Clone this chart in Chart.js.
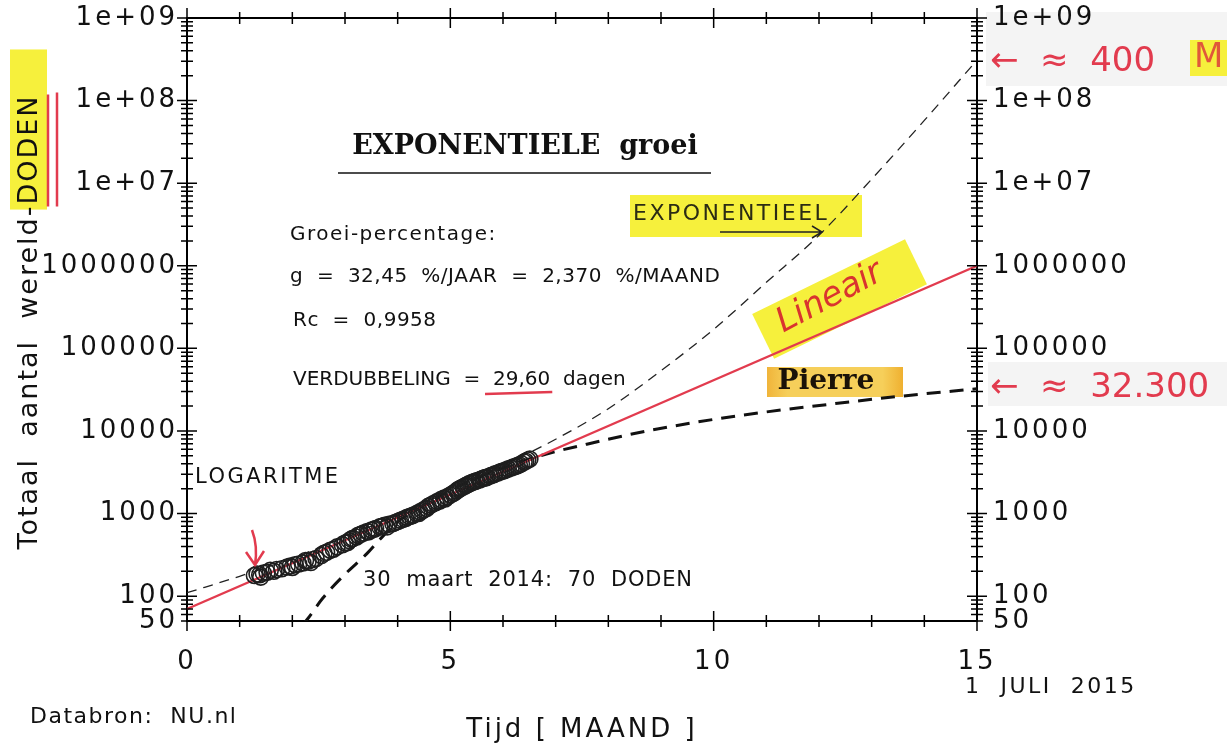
<!DOCTYPE html>
<html>
<head>
<meta charset="utf-8">
<script src="https://cdn.jsdelivr.net/npm/chart.js@4.4.0/dist/chart.umd.min.js"></script>
<style>
  html, body { margin: 0; padding: 0; background: #fff; }
  canvas { display: block; }
</style>
</head>
<body>
<canvas id="myChart" width="1227" height="749"></canvas>
<script>
// x = maanden na 30 maart 2014, y = totaal aantal doden
var doden_maand = [1.28, 1.33, 1.38, 1.40, 1.45, 1.52, 1.58, 1.65, 1.70, 1.80, 1.90, 1.96, 2.00, 2.05, 2.12, 2.20,
  2.25, 2.30, 2.35, 2.39, 2.45, 2.55, 2.60, 2.65, 2.72, 2.78, 2.85, 2.95, 3.00, 3.05, 3.08, 3.12, 3.15, 3.22,
  3.25, 3.30, 3.35, 3.42, 3.45, 3.50, 3.55, 3.58, 3.66, 3.70, 3.75, 3.80, 3.83, 3.91, 3.95, 4.00, 4.05,
  4.10, 4.15, 4.18, 4.23, 4.27, 4.30, 4.36, 4.40, 4.42, 4.47, 4.50, 4.55, 4.58, 4.63, 4.67, 4.72, 4.75,
  4.80, 4.82, 4.88, 4.90, 4.94, 5.00, 5.05, 5.08, 5.12, 5.15, 5.18, 5.20, 5.24, 5.28, 5.30, 5.33, 5.36,
  5.40, 5.43, 5.47, 5.50, 5.55, 5.58, 5.62, 5.65, 5.68, 5.70, 5.75, 5.78, 5.82, 5.85, 5.90, 5.94, 5.98,
  6.02, 6.06, 6.10, 6.15, 6.19, 6.23, 6.27, 6.31, 6.35, 6.40, 6.43, 6.47, 6.51];
var doden_aantal = [178, 185, 182, 170, 190, 195, 205, 200, 210, 215, 225, 232, 222, 240, 245, 252,
  270, 265, 255, 278, 285, 310, 330, 340, 360, 370, 395, 420, 440, 445, 470, 490, 500, 520,
  545, 560, 580, 605, 600, 630, 645, 660, 690, 700, 720, 690, 740, 755, 780, 800, 830,
  850, 870, 900, 920, 940, 960, 1000, 1000, 1050, 1080, 1120, 1150, 1220, 1270, 1310, 1350, 1400,
  1420, 1480, 1540, 1500, 1590, 1680, 1750, 1800, 1880, 1950, 2000, 2030, 2100, 2150, 2200, 2250, 2300,
  2350, 2410, 2450, 2500, 2550, 2600, 2680, 2700, 2720, 2770, 2850, 2900, 2950, 3020, 3100, 3180, 3250,
  3300, 3380, 3470, 3560, 3650, 3700, 3800, 3900, 4000, 4200, 4300, 4450, 4560];

var lineair_maand = [0, 15];
var lineair_aantal = [70, 1000000];

var expo_maand = [0, 1, 2, 3, 4, 5, 6, 7, 8, 9, 10, 11, 12, 13, 14, 15];
var expo_aantal = [110, 174, 288, 525, 955, 1905, 3800, 7940, 18600, 53700, 170000, 631000,
  2340000, 11200000, 57500000, 309000000];

var pierre_maand = [2.2, 2.30, 2.58, 2.96, 3.42, 3.66, 4.0, 4.5, 5.0, 5.5, 6.0, 6.5, 7.0, 7.59, 8.66,
  10.0, 11.0, 12.3, 13.54, 15.0];
var pierre_aantal = [45, 54, 95, 174, 329, 485, 794, 1259, 1905, 2692, 3548, 4571, 5623, 6918, 9772,
  13800, 17000, 21400, 26300, 32400];

var x_ticks = [0, 5, 10, 15];
var y_ticks = [50, 100, 1000, 10000, 100000, 1000000, 1e7, 1e8, 1e9];
var y_labels = ['50', '100', '1000', '10000', '100000', '1000000', '1e+07', '1e+08', '1e+09'];

function pts(xs, ys) {
  var out = [];
  for (var i = 0; i < xs.length; i++) out.push({x: xs[i], y: ys[i]});
  return out;
}

function yLabel(v) {
  for (var i = 0; i < y_ticks.length; i++) {
    if (Math.abs(v - y_ticks[i]) < y_ticks[i] * 1e-6) return y_labels[i];
  }
  return '';
}

var FONT = 'DejaVu Sans';
var ROOD = '#e23b4e';
var GEEL = '#f6f03c';
var LS = '3px'; // brede letters zoals in het origineel
var yTitel = 'Totaal  aantal  wereld-DODEN';

function yTitelPos(ctx) {
  ctx.save();
  ctx.font = '27px "' + FONT + '"';
  ctx.letterSpacing = '2px';
  var W = ctx.measureText(yTitel).width;
  var wD = ctx.measureText('DODEN').width;
  ctx.restore();
  var cy = 322;
  var top = cy - W / 2;
  return {W: W, top: top, dodenEnd: top + wD, cy: cy};
}

function txt(ctx, s, x, y, size, opts) {
  opts = opts || {};
  ctx.save();
  ctx.font = (opts.style || '') + ' ' + size + 'px "' + (opts.family || FONT) + '"';
  ctx.letterSpacing = opts.ls || '0px';
  ctx.fillStyle = opts.color || '#111';
  ctx.textAlign = opts.align || 'left';
  ctx.textBaseline = 'middle';
  ctx.fillText(s, x, y);
  ctx.restore();
}

function noPad(s) { s.paddingTop = 0; s.paddingBottom = 0; }

const annotaties = {
  id: 'annotaties',
  beforeLayout(chart) { chart.ctx.letterSpacing = LS; },
  beforeDraw(chart) {
    const ctx = chart.ctx;
    ctx.save();
    ctx.fillStyle = '#fff';
    ctx.fillRect(0, 0, chart.width, chart.height);
    // lichte scan-achtergronden
    ctx.fillStyle = '#f4f4f4';
    ctx.fillRect(986, 12, 241, 74);
    ctx.fillRect(988, 362, 239, 44);
    // DODEN markering
    const p = yTitelPos(ctx);
    ctx.fillStyle = GEEL;
    ctx.fillRect(10, p.top - 45, 37, p.dodenEnd - p.top + 50);
    // EXPONENTIEEL
    ctx.fillRect(630, 195, 232, 42);
    // Lineair
    ctx.save();
    ctx.translate(840, 300);
    ctx.rotate(-26 * Math.PI / 180);
    ctx.fillRect(-85, -26, 170, 50);
    ctx.restore();
    // Pierre
    const g = ctx.createLinearGradient(767, 0, 903, 0);
    g.addColorStop(0, '#f0b43a');
    g.addColorStop(0.15, '#f6cf5a');
    g.addColorStop(0.85, '#f6cf5a');
    g.addColorStop(1, '#efb030');
    ctx.fillStyle = g;
    ctx.fillRect(767, 367, 136, 30);
    // M
    ctx.fillStyle = GEEL;
    ctx.fillRect(1190, 40, 37, 36);
    ctx.restore();
    ctx.letterSpacing = LS;
  },
  afterDraw(chart) {
    const ctx = chart.ctx;
    const ca = chart.chartArea;
    const xs = chart.scales.x;
    const ys = chart.scales.y;
    ctx.save();
    ctx.letterSpacing = '0px';
    ctx.strokeStyle = '#000';
    ctx.lineWidth = 1.5;
    ctx.beginPath();
    xs.ticks.forEach(function (t) {
      const px = xs.getPixelForValue(t.value);
      const L = (Math.round(t.value) % 5 === 0) ? 10 : 6;
      ctx.moveTo(px, ca.bottom - L); ctx.lineTo(px, ca.bottom + L);
      ctx.moveTo(px, ca.top - L); ctx.lineTo(px, ca.top + L);
    });
    ys.ticks.forEach(function (t) {
      const e = Math.floor(Math.log10(t.value) + 1e-9);
      const m = t.value / Math.pow(10, e);
      if (Math.abs(m - Math.round(m)) > 1e-6) return;
      const py = ys.getPixelForValue(t.value);
      const L = Math.abs(m - 1) < 1e-6 ? 10 : 6;
      ctx.moveTo(ca.left - L, py); ctx.lineTo(ca.left + L, py);
      ctx.moveTo(ca.right - L, py); ctx.lineTo(ca.right + L, py);
    });
    ctx.stroke();

    // y titel
    const p = yTitelPos(ctx);
    ctx.save();
    ctx.translate(30, p.cy);
    ctx.rotate(-Math.PI / 2);
    ctx.font = '27px "' + FONT + '"';
    ctx.letterSpacing = '2px';
    ctx.fillStyle = '#111';
    ctx.textAlign = 'center';
    ctx.textBaseline = 'middle';
    ctx.fillText(yTitel, 0, 0);
    ctx.restore();
    ctx.strokeStyle = ROOD;
    ctx.lineWidth = 2.5;
    ctx.beginPath();
    ctx.moveTo(48, p.top); ctx.lineTo(48, p.dodenEnd + 2);
    ctx.moveTo(57, p.top - 2); ctx.lineTo(57, p.dodenEnd + 2);
    ctx.stroke();

    // kop
    txt(ctx, 'EXPONENTIELE  groei', 525, 147, 27, {family: 'DejaVu Serif', style: 'bold', align: 'center'});
    ctx.strokeStyle = '#111';
    ctx.lineWidth = 1.5;
    ctx.beginPath(); ctx.moveTo(338, 173); ctx.lineTo(711, 173); ctx.stroke();

    txt(ctx, 'Groei-percentage:', 290, 235, 20, {ls: '1.5px'});
    txt(ctx, 'g  =  32,45  %/JAAR  =  2,370  %/MAAND', 290, 277, 20, {ls: '0.5px'});
    txt(ctx, 'Rc  =  0,9958', 293, 321, 20, {ls: '0.5px'});
    txt(ctx, 'VERDUBBELING  =  29,60  dagen', 293, 380, 20);
    ctx.font = '20px "' + FONT + '"';
    const w0 = ctx.measureText('VERDUBBELING  =  ').width;
    const w1 = ctx.measureText('29,60').width;
    ctx.strokeStyle = ROOD;
    ctx.lineWidth = 2.5;
    ctx.beginPath(); ctx.moveTo(293 + w0 - 8, 394); ctx.lineTo(293 + w0 + w1 + 2, 392); ctx.stroke();

    txt(ctx, 'EXPONENTIEEL', 633, 214, 22, {color: '#2b2b14', ls: '2.5px'});
    ctx.strokeStyle = '#222';
    ctx.lineWidth = 1.5;
    ctx.beginPath();
    ctx.moveTo(720, 232); ctx.lineTo(822, 232);
    ctx.moveTo(812, 226); ctx.lineTo(822, 232); ctx.lineTo(812, 238);
    ctx.stroke();

    ctx.save();
    ctx.translate(830, 298);
    ctx.rotate(-28 * Math.PI / 180);
    ctx.font = 'italic 34px "' + FONT + '"';
    ctx.fillStyle = '#d9342f';
    ctx.textAlign = 'center';
    ctx.textBaseline = 'middle';
    ctx.fillText('Lineair', 0, 0);
    ctx.restore();

    txt(ctx, 'Pierre', 826, 382, 28, {family: 'DejaVu Serif', style: 'bold', align: 'center', color: '#1a1208'});

    txt(ctx, 'LOGARITME', 195, 478, 21, {ls: '2.5px'});
    txt(ctx, '30  maart  2014:  70  DODEN', 363, 581, 21, {ls: '0.8px'});

    // rode pijl
    ctx.strokeStyle = ROOD;
    ctx.lineWidth = 2.5;
    ctx.beginPath();
    ctx.moveTo(252, 530); ctx.quadraticCurveTo(258, 546, 255, 565);
    ctx.moveTo(246, 552); ctx.lineTo(255, 565); ctx.lineTo(264, 551);
    ctx.stroke();

    txt(ctx, '1  JULI  2015', 965, 687, 22, {ls: '2.5px'});
    txt(ctx, 'Databron:  NU.nl', 30, 717, 22, {ls: '1.5px'});

    txt(ctx, '\u2190  \u2248  400', 990, 62, 34, {color: ROOD});
    txt(ctx, 'M', 1194, 58, 34, {color: '#e0583a'});
    txt(ctx, '\u2190  \u2248  32.300', 990, 388, 34, {color: ROOD});
    ctx.restore();
  }
};

const tickFont = {family: FONT, size: 26};

const config = {
  type: 'scatter',
  data: {
    datasets: [
      {
        label: 'doden',
        data: pts(doden_maand, doden_aantal),
        pointStyle: 'circle',
        pointRadius: 8,
        borderColor: '#1e1e1e',
        borderWidth: 1.6,
        backgroundColor: 'rgba(0,0,0,0)',
        showLine: false
      },
      {
        label: 'lineair',
        data: pts(lineair_maand, lineair_aantal),
        showLine: true,
        borderColor: ROOD,
        borderWidth: 2.2,
        pointRadius: 0
      },
      {
        label: 'exponentieel',
        data: pts(expo_maand, expo_aantal),
        showLine: true,
        borderColor: '#222',
        borderWidth: 1.3,
        borderDash: [10, 7],
        pointRadius: 0,
        cubicInterpolationMode: 'monotone'
      },
      {
        label: 'pierre',
        data: pts(pierre_maand, pierre_aantal),
        showLine: true,
        borderColor: '#111',
        borderWidth: 3,
        borderDash: [14, 9],
        pointRadius: 0,
        cubicInterpolationMode: 'monotone'
      }
    ]
  },
  options: {
    responsive: false,
    animation: false,
    layout: {padding: 0},
    plugins: {legend: {display: false}, tooltip: {enabled: false}},
    scales: {
      x: {
        type: 'linear', position: 'bottom', min: 0, max: 15,
        afterFit: function (s) { s.height = 128; s.paddingLeft = 0; s.paddingRight = 0; },
        grid: {display: false, drawTicks: false},
        border: {display: true, color: '#000', width: 2},
        ticks: {
          stepSize: 1, autoSkip: false, maxRotation: 0, padding: 26, color: '#111', font: tickFont,
          callback: function (v) { return x_ticks.indexOf(v) >= 0 ? String(v) : ''; }
        },
        title: {display: true, text: 'Tijd [ MAAND ]', color: '#111', font: {family: FONT, size: 26}, padding: {top: 0, bottom: 3}}
      },
      xTop: {
        type: 'linear', position: 'top', min: 0, max: 15,
        afterFit: function (s) { s.height = 18; s.paddingLeft = 0; s.paddingRight = 0; },
        grid: {display: false, drawTicks: false},
        border: {display: true, color: '#000', width: 2},
        ticks: {display: false}
      },
      y: {
        type: 'logarithmic', position: 'left', min: 50, max: 1e9,
        afterFit: function (s) { s.width = 187; noPad(s); },
        grid: {display: false, drawTicks: false},
        border: {display: true, color: '#000', width: 2},
        ticks: {autoSkip: false, padding: 9, color: '#111', font: tickFont, callback: yLabel}
      },
      yRight: {
        type: 'logarithmic', position: 'right', min: 50, max: 1e9,
        afterFit: function (s) { s.width = 250; noPad(s); },
        grid: {display: false, drawTicks: false},
        border: {display: true, color: '#000', width: 2},
        ticks: {autoSkip: false, padding: 16, color: '#111', font: tickFont, callback: yLabel}
      }
    }
  },
  plugins: [annotaties]
};

const myChart = new Chart(document.getElementById('myChart'), config);
</script>
</body>
</html>
